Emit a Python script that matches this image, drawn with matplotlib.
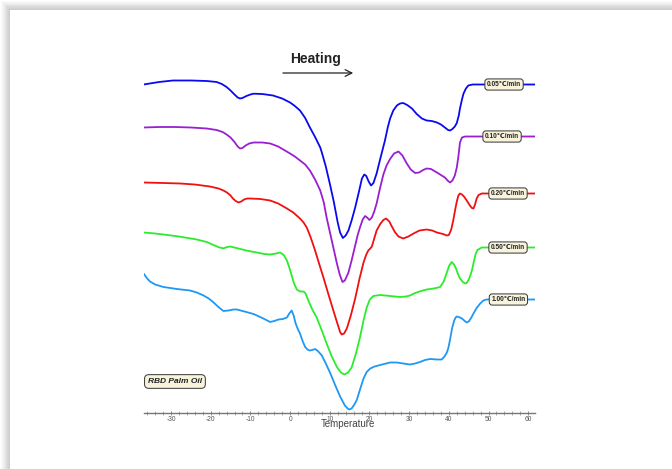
import matplotlib
matplotlib.use("Agg")
import matplotlib.pyplot as plt
from matplotlib.patches import Rectangle
from matplotlib.ticker import MultipleLocator

plt.rcParams["axes.unicode_minus"] = False

# DSC heating curves of RBD palm oil at five heating rates (heat flow, arbitrary units, offset)
t_005 = [-36.9, -33, -29.5, -25, -21, -18.5, -17.2, -16, -15, -14, -13.2, -12.6, -12, -11, -10,
         -9.2, -7, -4.3, -2, 0, 1.2, 2.5, 3.8, 5, 6.3, 7.6, 8, 9, 10, 11, 12, 12.6, 13.3, 14,
         14.7, 15.5, 16.4, 17.3, 18.1, 18.7, 19.2, 19.8, 20.4, 21, 21.8, 22.8, 23.9, 24.6, 25.2,
         26, 26.9, 27.7, 28.5, 29.5, 30.7, 31.9, 33.2, 34.4, 35.7, 37, 38, 39, 39.8, 40.3, 40.9,
         41.5, 42, 42.5, 42.8, 43.3, 43.7, 44.3, 44.9, 46, 61.7]
hf_005 = [328, 330.5, 332, 332, 331.5, 330.5, 328.5, 325.5, 322, 318, 315, 314, 314.5, 316.5, 318,
          318.8, 318.5, 317, 314, 310, 306.5, 302, 294.5, 285, 275.5, 265, 260, 246, 229, 211, 190,
          180, 174.5, 177, 182, 192, 205, 220, 234, 238, 236.5, 231, 227, 229.5, 239, 255, 272,
          285, 294, 302, 307, 309, 309.5, 307.5, 304, 298.5, 294, 292, 291.5, 290, 288, 285, 282.5,
          282, 283.5, 286, 289.5, 297, 304, 313, 319, 324, 327, 328, 328]

t_010 = [-36.9, -33, -29, -25, -21, -18.5, -17, -16, -15, -14, -13.2, -12.6, -12, -11.2, -10.3,
         -9.2, -7, -5, -3, -1.5, 0, 1.2, 2.5, 3.8, 5, 6.3, 7.6, 8.5, 9.2, 10.5, 11.8, 12.5, 13.2,
         13.8, 14.7, 15.5, 16.4, 17, 17.6, 18.3, 18.9, 19.4, 20, 20.6, 21.2, 21.8, 22.7, 23.5,
         24.3, 25.2, 26.2, 27.3, 28.3, 29.4, 30.4, 31.5, 32.5, 33.5, 34.4, 35.5, 37, 38, 39, 39.8,
         40.3, 40.9, 41.5, 42, 42.4, 42.8, 43.3, 44.1, 61.7]
hf_010 = [285, 285.5, 285.5, 285, 284, 282.5, 280.5, 278, 275, 270.5, 266, 264, 264.5, 267, 269,
          270, 270, 269, 266, 262.5, 259, 256, 252, 248, 242, 233, 222, 210, 195, 172, 149, 138,
          130.5, 132, 140, 152, 167, 177, 185, 193, 196.5, 195, 192.5, 195, 201, 209, 225, 238,
          247, 253.5, 259, 261, 257, 249, 243, 239.5, 240, 242.5, 244, 243.5, 240, 237.5, 235,
          231.5, 230, 232, 237, 245, 256, 270, 275, 276, 276]

t_020 = [-36.9, -32, -27.7, -24, -20.2, -18, -16.8, -15.9, -15, -14.4, -13.7, -13, -12.3, -11.6,
         -10.8, -10.1, -7.5, -5, -3, -1, 0.8, 2.5, 3.4, 4.2, 5.2, 6.3, 7.3, 8.4, 9.6, 10.9, 12,
         12.6, 13, 13.6, 14.3, 15.3, 16.4, 17.5, 18.5, 19.2, 19.7, 20.2, 20.6, 21.2, 21.8, 22.7,
         23.5, 24.2, 25, 25.7, 26.4, 27.3, 28.5, 29.8, 31.1, 32.6, 34.4, 35.8, 37, 38.5, 39.5, 40,
         40.6, 41.1, 41.6, 42, 42.4, 42.8, 43.3, 43.9, 44.5, 45.3, 45.8, 46.2, 46.6, 47, 47.5,
         48.3, 61.7]
hf_020 = [230, 229.5, 229, 228, 226, 224, 222, 220, 217, 214, 211.5, 210, 211, 213,
          214, 214, 213.5, 212, 209, 204.5, 200, 194, 190, 185, 175, 162, 149, 135, 119, 102, 88,
          80.5, 78, 79, 84, 97, 114, 134, 150, 158, 162, 164, 166, 174, 182, 188.5,
          192.5, 194, 191, 185.5, 180.5, 176, 174, 176, 179, 182, 183, 182, 180, 178.5, 177, 177.5,
          183, 192, 203, 211, 217, 219, 218, 215.5, 212, 207, 204.5, 204, 208, 214, 217.5,
          219, 219]

t_050 = [-36.9, -34, -31.9, -28, -23.5, -21, -19.3, -17.8, -16.8, -15.8, -15.1, -13.5, -11, -8.4,
         -6.5, -5, -3.5, -2.5, -1.6, -0.8, -0.2, 0.4, 1, 1.7, 2.5, 3.4, 3.9, 4.6, 5.6, 6.7, 8,
         9.2, 10.5, 11.8, 12.8, 13.7, 14.6, 15.5, 16.6, 17.6, 18.5, 19.3, 20.1, 21, 22.7, 25.2,
         27.7, 29.2, 30.2, 31.5, 33, 34.4, 36.2, 37.8, 38.7, 39.5, 40.1, 40.7, 41.3, 41.8, 42.3,
         42.8, 43.5, 44.1, 44.5, 45, 45.4, 45.8, 46.3, 46.7, 47.2, 48.3, 61.7]
hf_050 = [180, 179, 178, 176, 173, 170.5, 167.5, 165, 164.2, 165.5, 166, 164.5, 162, 160,
          158.5, 158, 159, 160, 157.5, 152, 145, 137, 129, 123, 121, 121, 119, 112, 103, 95, 82,
          69, 56, 45.5, 40, 38, 40, 45, 59, 75, 92, 105, 113, 116.5, 117.5, 116.5,
          115.5, 116, 117, 119.5, 121.5, 123, 124, 125.5, 131, 140, 147, 150.5, 148, 144, 138.5,
          134, 130.5, 129, 129.5, 133, 137, 142, 151, 158, 162.5, 165, 165]

t_100 = [-36.9, -36.2, -35.3, -34, -31.9, -28.5, -25.2, -23.5, -21.8, -20.5, -19.4, -18.2, -16.8,
         -15.5, -14.3, -13.4, -11.5, -9.2, -7, -5, -4, -2.9, -1.8, -0.8, -0.2, 0.4, 0.9, 1.4, 2,
         2.5, 3.2, 3.8, 4.4, 4.9, 5.6, 6.3, 7, 8, 9, 10.1, 11.4, 12.6, 13.8, 14.5, 14.9, 15.5,
         16.2, 16.8, 17.7, 18.5, 19.3, 20.2, 21.3, 22.7, 25.2, 26.9, 28.5, 30.2, 31.5, 32.7, 34,
         35.3, 37, 38.2, 38.9, 39.5, 39.9, 40.4, 40.8, 41.3, 41.7, 42, 42.5, 43.3, 44, 44.5, 45,
         45.6, 46.2, 47, 47.9, 48.7, 49.5, 61.7]
hf_100 = [139, 135, 131, 128, 125.5, 123.5, 122, 120, 117, 114, 110.5, 106, 101.5,
          102, 103, 103, 101, 98.5, 94.5, 90.5, 91.5, 93, 93.5, 95, 99, 102, 97, 89, 83,
          79, 71, 65.5, 63, 62, 62.5, 63.5, 61.5, 57, 49, 39.5, 27, 16, 7, 4, 3, 4,
          8, 12.5, 24, 34, 40.5, 44, 46, 47.5, 50, 50, 49, 48, 49, 50.5, 52.5,
          53.5, 53, 53, 56, 60, 65, 75, 84, 91.5, 95, 96, 95.5, 94, 91.5, 90, 91,
          94.5, 99, 104.5, 109, 112, 113, 113]

rates = ["0.05\u2103/min", "0.10\u2103/min", "0.20\u2103/min", "0.50\u2103/min", "1.00\u2103/min"]
colors = ["#0a0aef", "#9a1fd0", "#f01010", "#2cec2c", "#1e98f5"]
label_t = [53.9, 53.4, 54.9, 54.9, 55.0]

series = [(t_005, hf_005), (t_010, hf_010), (t_020, hf_020), (t_050, hf_050), (t_100, hf_100)]

W, H = 672.0, 469.0
fig = plt.figure(figsize=(W / 100, H / 100), dpi=100)
fig.patch.set_facecolor("white")

# background layer: white card with a soft drop shadow on the top and left
bg = fig.add_axes([0, 0, 1, 1], zorder=-5)
bg.set_xlim(0, W)
bg.set_ylim(H, 0)
bg.axis("off")
for i in range(10, 0, -1):
    bg.add_patch(Rectangle((10 - i * 0.9, 10 - i * 0.9), W, H, facecolor="#000000",
                           alpha=0.02, edgecolor="none"))
bg.add_patch(Rectangle((10, 10), W, H, facecolor="white", edgecolor="none"))

ax = fig.add_axes([144 / W, (H - 412.5) / H, (535 - 144) / W, (412.5 - 50) / H], zorder=1)
ax.set_facecolor("none")

for (t, hf), c, lab, lt in zip(series, colors, rates, label_t):
    ax.plot(t, hf, color=c, lw=1.3, solid_joinstyle="round", solid_capstyle="round", zorder=2)
    ax.text(lt, hf[-1], lab, ha="center", va="center", fontsize=4.7, fontweight="bold",
            family=["Liberation Sans", "DejaVu Sans"], color="#222222", zorder=4,
            bbox=dict(boxstyle="round,pad=0.32,rounding_size=0.45", fc="#f8f4dc",
                      ec="#333333", lw=0.7))

ax.set_xlim(-36.8, 61.7)
ax.set_ylim(0, 362.5)

for s in ["left", "right", "top"]:
    ax.spines[s].set_visible(False)
ax.spines["bottom"].set_color("#777777")
ax.spines["bottom"].set_linewidth(1.0)
ax.set_yticks([])
ax.xaxis.set_major_locator(MultipleLocator(10))
ax.xaxis.set_minor_locator(MultipleLocator(2))
ax.tick_params(axis="x", which="major", direction="inout", length=3.5, width=0.6,
               color="#777777", labelsize=4.8, labelcolor="#555555", pad=1)
ax.tick_params(axis="x", which="minor", direction="inout", length=2.2, width=0.5,
               color="#888888")
for lbl in ax.get_xticklabels():
    lbl.set_family("Liberation Sans")

ax.text(14.5, -11.5, "Temperature", ha="center", va="center", fontsize=7,
        family="Liberation Sans", color="#444444", clip_on=False)

# heating direction
ax.annotate("", xy=(16.6, 339.5), xytext=(-2.5, 339.5),
            arrowprops=dict(arrowstyle="->", color="#222222", lw=0.9,
                            mutation_scale=12), annotation_clip=False)
ax.text(6.4, 354, "Heating", ha="center", va="center", fontsize=10, fontweight="bold",
        family="Liberation Sans", color="#222222", clip_on=False)

ax.text(-29.0, 31, "RBD Palm Oil", ha="center", va="center", fontsize=6,
        fontweight="bold", fontstyle="italic", family="Liberation Sans", color="#222222",
        bbox=dict(boxstyle="round,pad=0.4,rounding_size=0.5", fc="#f8f4dc",
                  ec="#333333", lw=0.7))

fig.savefig("out.png", dpi=100, facecolor=fig.get_facecolor())
